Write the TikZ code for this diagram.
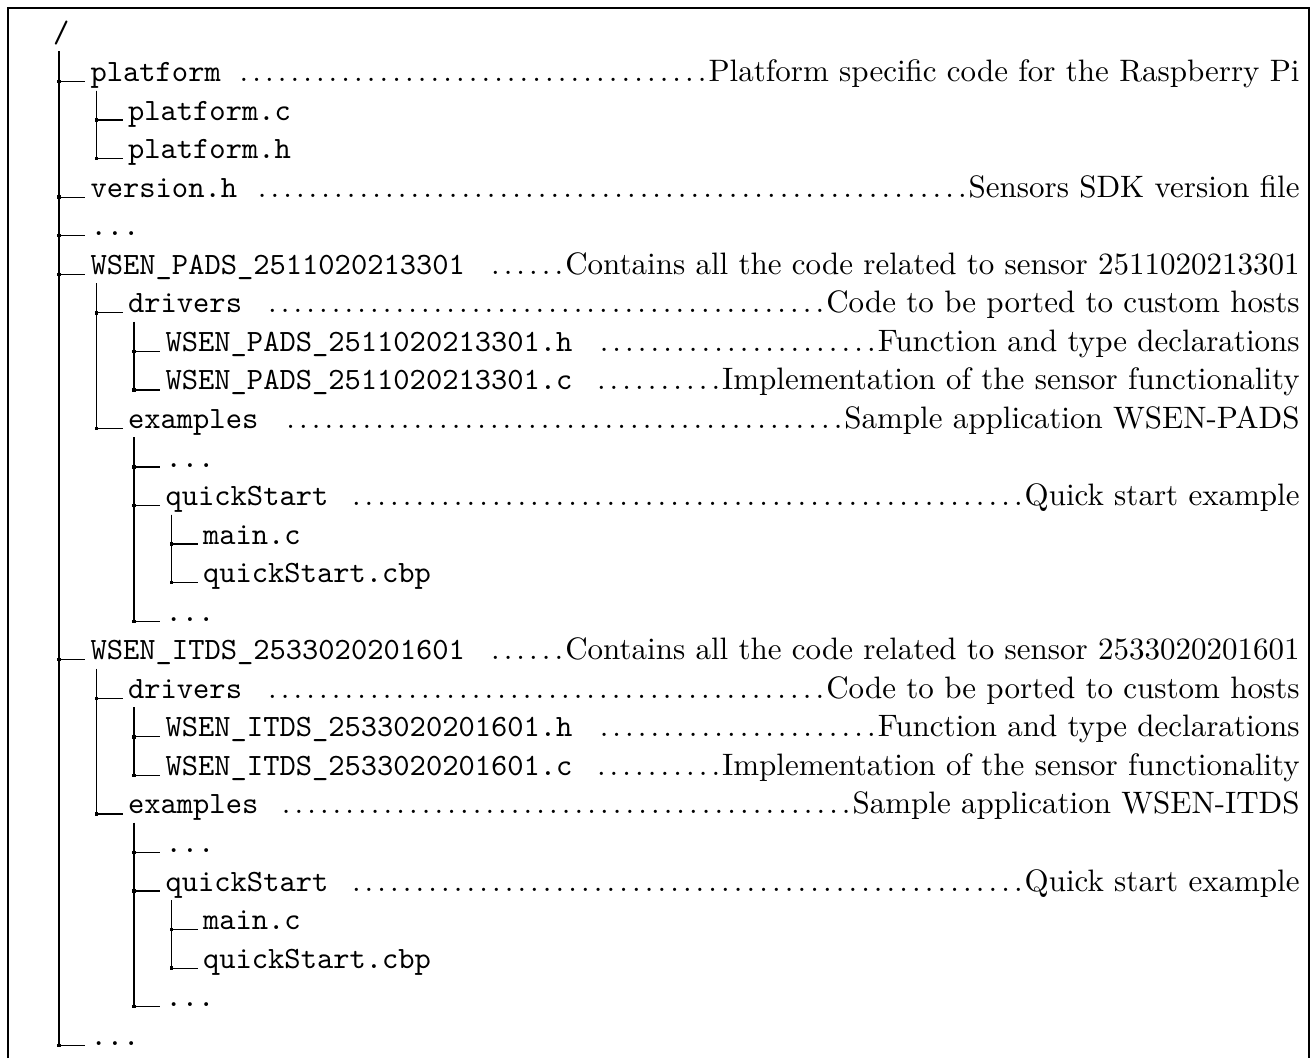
\documentclass[tikz,border=0pt]{standalone}
\usepackage{tikz}

\newlength\pxu
\setlength\pxu{0.3226pt}
\newlength\dotcell
\setlength\dotcell{4.107pt}
\newcount\ndots
\newcommand\leaderdots{\leaders\hbox to \dotcell{\hss.\hss}\hfill}
% name, dots flush against the comment, comment ending at the right margin
\newcommand\entrynote[3]{%
	\setbox0\hbox{\texttt{#2\ }}\setbox2\hbox{#3}%
	\dimen0=\dimexpr#1\pxu-\wd0-\wd2\relax
	\ndots=\dimen0 \divide\ndots by \dotcell
	\hbox to #1\pxu{\box0\hfill\hbox to \ndots\dotcell{\leaderdots}\box2}}
\newcommand\branch[2]{\draw[tree] ([shift={(6.5,9)}]#1.base west) |- node[knot,pos=.5] {} ([shift={(-5,0)}]#2.base west);}

\begin{document}
\begin{tikzpicture}[x=0.3226pt,y=-0.3226pt,
	entry/.style={anchor=base west,inner sep=0pt},
	tree/.style={line width=.4pt},
	knot/.style={fill,inner sep=0pt,minimum size=1.1pt}]
	\useasboundingbox (0,0) rectangle (1312,1058);
	\draw[line width=.5pt] (8,1058) |- (1309,8) -- (1309,1058);

	\node[entry] (root) at (52.5,42) {\texttt{/}};
	\node[entry] (pl) at (90,81.5) {\entrynote{1209}{platform}{Platform specific code for the Raspberry Pi}};
	\node[entry] (plc) at (127.5,120.05) {\texttt{platform.c}};
	\node[entry] (plh) at (127.5,158.6) {\texttt{platform.h}};
	\node[entry] (ver) at (90,197.15) {\entrynote{1209}{version.h}{Sensors SDK version file}};
	\node[entry] (etc) at (90,235.7) {\texttt{...}};

	% pressure sensor
	\node[entry] (pads) at (90,274.25) {\entrynote{1209}{WSEN\_PADS\_2511020213301}{Contains all the code related to sensor 2511020213301}};
	\node[entry] (pdrv) at (127.5,312.8) {\entrynote{1171.5}{drivers}{Code to be ported to custom hosts}};
	\node[entry] (pdh) at (165,351.35) {\entrynote{1134}{WSEN\_PADS\_2511020213301.h}{Function and type declarations}};
	\node[entry] (pdc) at (165,389.9) {\entrynote{1134}{WSEN\_PADS\_2511020213301.c}{Implementation of the sensor functionality}};
	\node[entry] (pex) at (127.5,428.45) {\entrynote{1171.5}{examples}{Sample application WSEN-PADS}};
	\node[entry] (pexa) at (165,467) {\texttt{...}};
	\node[entry] (pqs) at (165,505.55) {\entrynote{1134}{quickStart}{Quick start example}};
	\node[entry] (pqm) at (202.5,544.1) {\texttt{main.c}};
	\node[entry] (pqc) at (202.5,582.65) {\texttt{quickStart.cbp}};
	\node[entry] (pexb) at (165,621.2) {\texttt{...}};

	% acceleration sensor
	\node[entry] (itds) at (90,659.75) {\entrynote{1209}{WSEN\_ITDS\_2533020201601}{Contains all the code related to sensor 2533020201601}};
	\node[entry] (idrv) at (127.5,698.3) {\entrynote{1171.5}{drivers}{Code to be ported to custom hosts}};
	\node[entry] (idh) at (165,736.85) {\entrynote{1134}{WSEN\_ITDS\_2533020201601.h}{Function and type declarations}};
	\node[entry] (idc) at (165,775.4) {\entrynote{1134}{WSEN\_ITDS\_2533020201601.c}{Implementation of the sensor functionality}};
	\node[entry] (iex) at (127.5,813.95) {\entrynote{1171.5}{examples}{Sample application WSEN-ITDS}};
	\node[entry] (iexa) at (165,852.5) {\texttt{...}};
	\node[entry] (iqs) at (165,891.05) {\entrynote{1134}{quickStart}{Quick start example}};
	\node[entry] (iqm) at (202.5,929.6) {\texttt{main.c}};
	\node[entry] (iqc) at (202.5,968.15) {\texttt{quickStart.cbp}};
	\node[entry] (iexb) at (165,1006.7) {\texttt{...}};

	\node[entry] (last) at (90,1045.25) {\texttt{...}};

	% tree lines
	\foreach \kid in {pl,ver,etc,pads,itds,last} {\branch{root}{\kid}}
	\foreach \kid in {plc,plh} {\branch{pl}{\kid}}
	\foreach \kid in {pdrv,pex} {\branch{pads}{\kid}}
	\foreach \kid in {pdh,pdc} {\branch{pdrv}{\kid}}
	\foreach \kid in {pexa,pqs,pexb} {\branch{pex}{\kid}}
	\foreach \kid in {pqm,pqc} {\branch{pqs}{\kid}}
	\foreach \kid in {idrv,iex} {\branch{itds}{\kid}}
	\foreach \kid in {idh,idc} {\branch{idrv}{\kid}}
	\foreach \kid in {iexa,iqs,iexb} {\branch{iex}{\kid}}
	\foreach \kid in {iqm,iqc} {\branch{iqs}{\kid}}
\end{tikzpicture}
\end{document}
